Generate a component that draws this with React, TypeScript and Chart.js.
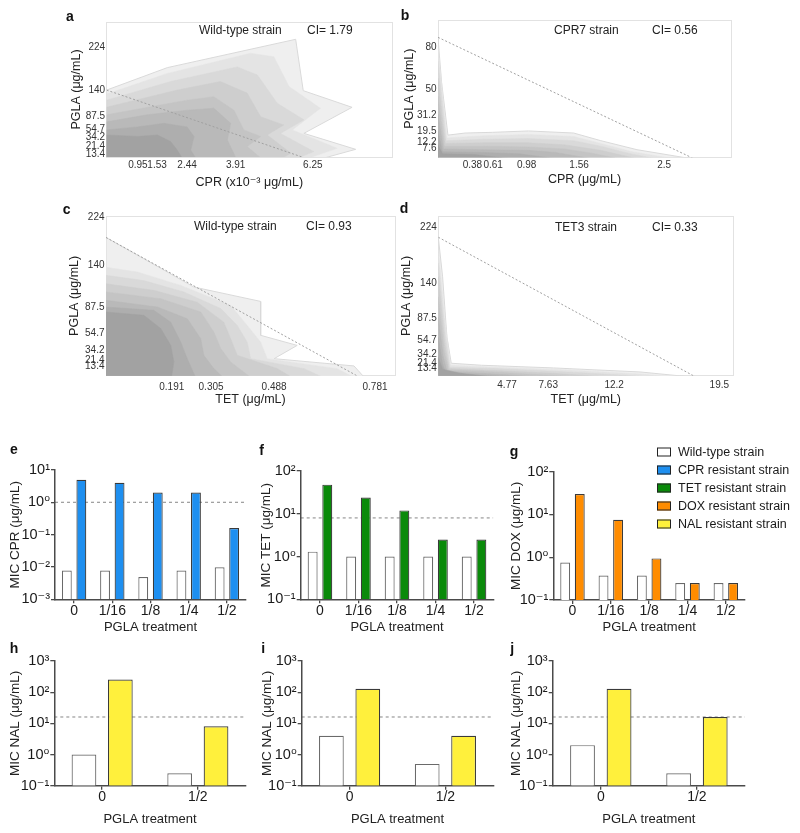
import React, { useEffect, useRef } from 'react';
import { Chart, registerables } from 'chart.js';

Chart.register(...registerables);

const FONT = '"Liberation Sans", Arial, Helvetica, "DejaVu Sans", sans-serif';
Chart.defaults.font.family = FONT;
if (typeof document !== 'undefined' && document.body) document.body.style.margin = '0';

// ---------------- Contour panels (a–d) ----------------
const aXTicks = [0.95, 1.53, 2.44, 3.91, 6.25];
const aXLabels = ['0.95', '1.53', '2.44', '3.91', '6.25'];
const aYTickPos = [224, 140, 88.5, 63, 45.5, 28, 13.4];
const aYLabels = ['224', '140', '87.5', '54.7', '34.2', '21.4', '13.4'];
const aIsobole = [[0, 140], [6.25, 0]];
const aL1 = [[0, 140], [1.84, 184.5], [5.73, 240.7], [5.96, 138.9], [7.44, 105.8], [5.98, 54.2], [7.55, 22.5], [6.3, 0]];
const aL2 = [[0, 132], [1.84, 173], [4.36, 213], [5.07, 206], [5.53, 147], [6.48, 104], [5.63, 61], [6.99, 24.5], [5.9, 0]];
const aL3 = [[0, 120], [1.94, 157], [3.96, 186], [4.57, 170], [5.17, 114], [5.98, 81], [5.27, 54], [6.28, 18], [5.6, 0]];
const aL4 = [[0, 106], [2.14, 140], [3.45, 157], [4.26, 134], [4.67, 87], [5.37, 71], [4.87, 51], [5.58, 15], [5.2, 0]];
const aL5 = [[0, 91], [2.44, 120], [3.25, 127], [3.86, 100], [4.16, 61], [4.67, 48], [4.26, 28], [4.77, 0]];
const aL6 = [[0, 77], [1.23, 91], [2.44, 100], [3.25, 104], [3.76, 74], [3.66, 41], [3.96, 0]];
const aL7 = [[0, 61], [0.93, 67], [1.74, 74], [2.44, 67], [2.65, 48], [2.55, 21], [2.75, 0]];
const aL8 = [[0, 51], [0.93, 48], [1.54, 51], [1.94, 38], [2.14, 21], [2.34, 0]];

const bXTicks = [0.38, 0.61, 0.98, 1.56, 2.5];
const bXLabels = ['0.38', '0.61', '0.98', '1.56', '2.5'];
const bYTicks = [80, 50, 31.2, 19.5, 12.2, 7.6];
const bYLabels = ['80', '50', '31.2', '19.5', '12.2', '7.6'];
const bIsobole = [[0, 87.5], [2.83, 0]];
const bL1 = [[0, 87], [0.04, 55], [0.11, 17], [0.3, 18.5], [0.6, 19], [1.0, 20], [1.5, 18.5], [1.8, 13], [2.2, 6.5], [2.8, 0]];
const bL2 = [[0, 80], [0.1, 15], [0.5, 16.5], [1.0, 17.5], [1.5, 16], [1.8, 11], [2.15, 5], [2.6, 0]];
const bL3 = [[0, 70], [0.09, 13], [0.5, 14], [1.0, 14.5], [1.5, 13], [1.8, 9], [2.1, 4], [2.4, 0]];
const bL4 = [[0, 58], [0.08, 11], [0.5, 11.5], [1.0, 11.5], [1.4, 10], [1.8, 6], [2.2, 0]];
const bL5 = [[0, 45], [0.07, 9], [0.5, 9], [1.0, 8.5], [1.4, 7], [1.7, 4], [2.0, 0]];
const bL6 = [[0, 32], [0.06, 7], [0.5, 6.5], [1.0, 6], [1.3, 4.5], [1.7, 0]];
const bL7 = [[0, 20], [0.05, 5], [0.5, 4.5], [0.9, 3.5], [1.3, 0]];
const bL8 = [[0, 10], [0.05, 3.5], [0.4, 3], [0.8, 0]];

const cXTicks = [0.191, 0.305, 0.488, 0.781];
const cXLabels = ['0.191', '0.305', '0.488', '0.781'];
const cYTickPos = [200, 140, 87.5, 54.7, 34.2, 21.4, 13.4];
const cYLabels = ['224', '140', '87.5', '54.7', '34.2', '21.4', '13.4'];
const cIsobole = [[0, 175], [0.737, 0]];
const cL1 = [[0, 175], [0.255, 113], [0.449, 95], [0.449, 52.6], [0.555, 40], [0.488, 23.4], [0.72, 14.3], [0.75, 0]];
const cL2 = [[0, 137.6], [0.091, 131.8], [0.217, 115], [0.362, 90], [0.41, 65], [0.449, 44], [0.468, 23.4], [0.671, 10.9], [0.72, 0]];
const cL3 = [[0, 127.6], [0.11, 121], [0.226, 106.8], [0.333, 86], [0.381, 65], [0.41, 44], [0.42, 23.4], [0.575, 10.9], [0.63, 0]];
const cL4 = [[0, 117], [0.139, 108.8], [0.265, 94], [0.342, 69], [0.362, 48.4], [0.381, 27.6], [0.497, 11], [0.54, 0]];
const cL5 = [[0, 106.8], [0.159, 98.4], [0.275, 81.8], [0.313, 56.8], [0.333, 36], [0.362, 19.3], [0.42, 0]];
const cL6 = [[0, 96.3], [0.149, 88], [0.236, 73.4], [0.275, 48.4], [0.284, 27.6], [0.313, 11], [0.34, 0]];
const cL7 = [[0, 88], [0.139, 83.8], [0.188, 69], [0.217, 44.3], [0.236, 23.4], [0.26, 0]];
const cL8 = [[0, 81.8], [0.11, 77.6], [0.159, 61], [0.188, 40], [0.197, 19.3], [0.19, 0]];

const dXTicks = [4.77, 7.63, 12.2, 19.5];
const dXLabels = ['4.77', '7.63', '12.2', '19.5'];
const dYTicks = [224, 140, 87.5, 54.7, 34.2, 21.4, 13.4];
const dYLabels = ['224', '140', '87.5', '54.7', '34.2', '21.4', '13.4'];
const dIsobole = [[0, 209], [17.9, 0]];
const dL1 = [[0, 209], [0.3, 150], [0.6, 60], [0.9, 21], [3, 18], [8, 14], [14, 8], [17.8, 0]];
const dL2 = [[0, 190], [0.5, 80], [0.85, 18], [4, 15], [9, 11], [14, 5], [16.5, 0]];
const dL3 = [[0, 170], [0.5, 60], [0.8, 15], [4, 13], [9, 8], [13, 3], [15, 0]];
const dL4 = [[0, 150], [0.45, 50], [0.75, 13], [4, 10], [8, 6], [12, 0]];
const dL5 = [[0, 120], [0.4, 40], [0.7, 11], [3, 9], [7, 4], [10, 0]];
const dL6 = [[0, 90], [0.35, 30], [0.6, 9], [3, 6], [6, 2], [8, 0]];
const dL7 = [[0, 60], [0.3, 20], [0.5, 8], [2.5, 4], [6, 0]];
const dL8 = [[0, 30], [0.3, 12], [1.5, 6], [4, 0]];

const GRAYS = ['#efefef', '#e4e4e4', '#d9d9d9', '#cecece', '#c4c4c4', '#b9b9b9', '#aeaeae', '#a2a2a2'];
const FRAME = '#e2e2e2';

// ---------------- Bar panels (e–j) ----------------
const cats5 = ['0', '1/16', '1/8', '1/4', '1/2'];
const cats2 = ['0', '1/2'];

const eWild = [0.0078, 0.0078, 0.0049, 0.0078, 0.0098];
const eCPR = [5, 4, 2, 2, 0.16];
const eCut = 1;
const eYTicks = [0.001, 0.01, 0.1, 1, 10];
const eYLabels = ['10⁻³', '10⁻²', '10⁻¹', '10⁰', '10¹'];

const fWild = [1.3, 1, 1, 1, 1];
const fTET = [48, 24, 12, 2.5, 2.5];
const fCut = 8;
const fgYTicks = [0.1, 1, 10, 100];
const fgYLabels = ['10⁻¹', '10⁰', '10¹', '10²'];

const gWild = [0.75, 0.375, 0.375, 0.25, 0.25];
const gDOX = [30, 7.5, 0.94, 0.25, 0.25];

const hWild = [1, 0.25];
const hNAL = [256, 8];
const iWild = [4, 0.5];
const iNAL = [128, 4];
const jWild = [2, 0.25];
const jNAL = [128, 16];
const nalCut = 16;
const hijYTicks = [0.1, 1, 10, 100, 1000];
const hijYLabels = ['10⁻¹', '10⁰', '10¹', '10²', '10³'];

const BLUE = '#1E8FF0';
const GREEN = '#0A8A0A';
const ORANGE = '#FF8C00';
const YELLOW = '#FFF03C';
const AXIS = '#4a4a4a';

const legendLabels = ['Wild-type strain', 'CPR resistant strain', 'TET resistant strain', 'DOX resistant strain', 'NAL resistant strain'];
const legendColors = ['#ffffff', BLUE, GREEN, ORANGE, YELLOW];

type Rect = { x: number; y: number; w: number; h: number };

const baseOptions = (rect: any, area: any) => ({
  responsive: false,
  animation: false,
  devicePixelRatio: 1,
  events: [],
  layout: { padding: { left: 0, bottom: 0, top: area.t - rect.y, right: rect.x + rect.w - area.r } },
  plugins: { legend: { display: false }, tooltip: { enabled: false } },
});

function contourConfig(s: any) {
  const { rect, area } = s;
  const titleSize = 12.5;
  const lh = titleSize * 1.2;
  const tickSize = 10;
  const datasets: any[] = [
    {
      data: s.isobole.map((p: number[]) => ({ x: p[0], y: p[1] })),
      borderColor: '#a0a0a0',
      borderWidth: 1,
      borderDash: [2, 2],
      pointRadius: 0,
      fill: false,
      order: 0,
    },
  ];
  s.levels.forEach((lv: number[][], i: number) => {
    datasets.push({
      data: [{ x: 0, y: 0 }, ...lv.map((p) => ({ x: p[0], y: p[1] }))],
      backgroundColor: GRAYS[i],
      borderColor: i === 0 ? '#dadada' : GRAYS[i],
      borderWidth: i === 0 ? 1 : 0.5,
      pointRadius: 0,
      fill: 'shape',
      order: 100 - i,
    });
  });
  return {
    type: 'line',
    data: { datasets },
    options: {
      ...baseOptions(rect, area),
      scales: {
        x: {
          type: 'linear',
          position: 'bottom',
          min: s.xMin,
          max: s.xMax,
          grid: { display: false, drawTicks: false },
          border: { display: true, color: FRAME, width: 1 },
          afterBuildTicks: (ax: any) => {
            ax.ticks = s.xTicks.map((v: number) => ({ value: v }));
          },
          afterFit: (ax: any) => {
            ax.height = rect.y + rect.h - area.b;
          },
          ticks: {
            autoSkip: false,
            maxRotation: 0,
            minRotation: 0,
            padding: s.xTickY - area.b - tickSize * 0.6,
            font: { size: tickSize },
            color: '#333',
            callback: (_v: any, i: number) => s.xLabels[i],
          },
          title: {
            display: true,
            text: s.xTitle,
            font: { size: titleSize },
            color: '#222',
            padding: { top: 0, bottom: rect.y + rect.h - s.xTitleY - lh / 2 },
          },
        },
        y: {
          type: 'linear',
          position: 'left',
          min: s.yMin,
          max: s.yMax,
          grid: { display: false, drawTicks: false },
          border: { display: true, color: FRAME, width: 1 },
          afterBuildTicks: (ax: any) => {
            ax.ticks = s.yTicks.map((v: number) => ({ value: v }));
          },
          afterFit: (ax: any) => {
            ax.width = area.l - rect.x;
          },
          ticks: {
            autoSkip: false,
            padding: 1.5,
            font: { size: tickSize },
            color: '#333',
            callback: (_v: any, i: number) => s.yLabels[i],
          },
          title: {
            display: true,
            text: 'PGLA (μg/mL)',
            font: { size: titleSize },
            color: '#222',
            padding: { top: s.yTitleX - rect.x - lh / 2, bottom: 0 },
          },
        },
        x2: {
          type: 'linear',
          position: 'top',
          min: 0,
          max: 1,
          grid: { display: false, drawTicks: false },
          ticks: { display: false },
          border: { display: true, color: FRAME, width: 1 },
          afterFit: (ax: any) => {
            ax.height = 0;
          },
        },
        y2: {
          type: 'linear',
          position: 'right',
          min: 0,
          max: 1,
          grid: { display: false, drawTicks: false },
          ticks: { display: false },
          border: { display: true, color: FRAME, width: 1 },
          afterFit: (ax: any) => {
            ax.width = 0;
          },
        },
      },
    },
  };
}

function barConfig(s: any) {
  const { rect, area } = s;
  const yTitleSize = 13.5;
  const xTitleSize = 13;
  const datasets: any[] = [
    {
      data: s.wild,
      backgroundColor: '#ffffff',
      borderColor: '#6a6a6a',
      borderWidth: 1.2,
      barPercentage: 0.68,
      categoryPercentage: 0.76,
    },
    {
      data: s.res,
      backgroundColor: s.color,
      borderColor: '#3a3a3a',
      borderWidth: 1.2,
      barPercentage: 0.68,
      categoryPercentage: 0.76,
    },
  ];
  return {
    type: 'bar',
    data: { labels: s.cats, datasets },
    options: {
      ...baseOptions(rect, area),
      scales: {
        x: {
          type: 'category',
          position: 'bottom',
          offset: true,
          grid: {
            display: true,
            drawOnChartArea: false,
            drawTicks: true,
            tickLength: 4,
            offset: false,
            color: AXIS,
            lineWidth: 1.3,
          },
          border: { display: true, color: AXIS, width: 1.5 },
          ticks: {
            autoSkip: false,
            maxRotation: 0,
            minRotation: 0,
            padding: 0.5,
            font: { size: 14, lineHeight: 1 },
            color: '#1a1a1a',
          },
          afterFit: (ax: any) => {
            ax.height = rect.y + rect.h - area.b;
          },
          title: {
            display: true,
            text: 'PGLA treatment',
            font: { size: xTitleSize },
            color: '#222',
            padding: { top: 0, bottom: rect.y + rect.h - s.xTitleY - (xTitleSize * 1.2) / 2 },
          },
        },
        y: {
          type: 'logarithmic',
          position: 'left',
          min: s.yTicks[0],
          max: s.yTicks[s.yTicks.length - 1],
          grid: {
            display: true,
            drawOnChartArea: false,
            drawTicks: true,
            tickLength: 4,
            color: AXIS,
            lineWidth: 1.3,
          },
          border: { display: true, color: AXIS, width: 1.5 },
          afterBuildTicks: (ax: any) => {
            ax.ticks = s.yTicks.map((v: number) => ({ value: v, major: true }));
          },
          afterFit: (ax: any) => {
            ax.width = area.l - rect.x;
          },
          ticks: {
            autoSkip: false,
            padding: 1,
            font: { size: 14.5 },
            color: '#1a1a1a',
            callback: (_v: any, i: number) => s.yLabels[i],
          },
          title: {
            display: true,
            text: s.yTitle,
            font: { size: yTitleSize },
            color: '#222',
            padding: { top: s.yTitleX - rect.x - (yTitleSize * 1.2) / 2, bottom: 0 },
          },
        },
      },
    },
  };
}

// Threshold (dashed) line, drawn by its own chart with the same geometry and log scale,
// placed underneath the bar chart.
function cutConfig(s: any) {
  const { rect, area } = s;
  return {
    type: 'line',
    data: {
      datasets: [
        {
          data: [
            { x: 0, y: s.cut },
            { x: 1, y: s.cut },
          ],
          borderColor: '#9a9a9a',
          borderWidth: 1.2,
          borderDash: [3, 3],
          pointRadius: 0,
          fill: false,
        },
      ],
    },
    options: {
      ...baseOptions(rect, area),
      scales: {
        x: {
          type: 'linear',
          min: 0,
          max: 1,
          offset: false,
          grid: { display: false, drawTicks: false },
          border: { display: false },
          ticks: { display: false },
          afterFit: (ax: any) => {
            ax.height = rect.y + rect.h - area.b;
          },
        },
        y: {
          type: 'logarithmic',
          min: s.yTicks[0],
          max: s.yTicks[s.yTicks.length - 1],
          grid: { display: false, drawTicks: false },
          border: { display: false },
          ticks: { display: false },
          afterFit: (ax: any) => {
            ax.width = area.l - rect.x;
          },
        },
      },
    },
  };
}

function CanvasChart({ rect, build }: { rect: Rect; build: () => any }) {
  const ref = useRef<HTMLCanvasElement | null>(null);
  useEffect(() => {
    if (!ref.current) return;
    const chart = new Chart(ref.current, build());
    return () => chart.destroy();
  }, []);
  return (
    <canvas
      ref={ref}
      width={rect.w}
      height={rect.h}
      style={{ position: 'absolute', left: rect.x, top: rect.y, width: rect.w, height: rect.h }}
    />
  );
}

const contourSpecs = [
  {
    key: 'a',
    rect: { x: 50, y: 10, w: 360, h: 186 },
    area: { l: 106.6, t: 22, r: 392, b: 157 },
    xMin: 0, xMax: 8.65, yMin: 7.3, yMax: 275,
    xTicks: aXTicks, xLabels: aXLabels, yTicks: aYTickPos, yLabels: aYLabels,
    isobole: aIsobole, levels: [aL1, aL2, aL3, aL4, aL5, aL6, aL7, aL8],
    xTitle: 'CPR (x10⁻³ μg/mL)', yTitleX: 76.7, xTitleY: 182.7, xTickY: 165.7,
  },
  {
    key: 'b',
    rect: { x: 395, y: 10, w: 350, h: 186 },
    area: { l: 438, t: 20, r: 731, b: 157.3 },
    xMin: 0, xMax: 3.24, yMin: 1, yMax: 100,
    xTicks: bXTicks, xLabels: bXLabels, yTicks: bYTicks, yLabels: bYLabels,
    isobole: bIsobole, levels: [bL1, bL2, bL3, bL4, bL5, bL6, bL7, bL8],
    xTitle: 'CPR (μg/mL)', yTitleX: 410, xTitleY: 180, xTickY: 165.7,
  },
  {
    key: 'c',
    rect: { x: 50, y: 205, w: 360, h: 210 },
    area: { l: 106, t: 216, r: 395, b: 375.7 },
    xMin: 0, xMax: 0.839, yMin: 2.1, yMax: 201.8,
    xTicks: cXTicks, xLabels: cXLabels, yTicks: cYTickPos, yLabels: cYLabels,
    isobole: cIsobole, levels: [cL1, cL2, cL3, cL4, cL5, cL6, cL7, cL8],
    xTitle: 'TET (μg/mL)', yTitleX: 75, xTitleY: 400, xTickY: 387.7,
  },
  {
    key: 'd',
    rect: { x: 395, y: 205, w: 350, h: 210 },
    area: { l: 438.3, t: 216, r: 733.3, b: 375.7 },
    xMin: 0, xMax: 20.47, yMin: 2.4, yMax: 240.7,
    xTicks: dXTicks, xLabels: dXLabels, yTicks: dYTicks, yLabels: dYLabels,
    isobole: dIsobole, levels: [dL1, dL2, dL3, dL4, dL5, dL6, dL7, dL8],
    xTitle: 'TET (μg/mL)', yTitleX: 406.7, xTitleY: 400, xTickY: 385.7,
  },
];

const barSpecs = [
  {
    key: 'e', rect: { x: 0, y: 440, w: 258, h: 200 }, area: { l: 55, t: 470, r: 246, b: 599.3 },
    cats: cats5, wild: eWild, res: eCPR, color: BLUE, cut: eCut,
    yTicks: eYTicks, yLabels: eYLabels, yTitle: 'MIC CPR (μg/mL)', yTitleX: 15, xTitleY: 627,
  },
  {
    key: 'f', rect: { x: 252, y: 440, w: 252, h: 200 }, area: { l: 300.7, t: 471, r: 493.3, b: 599.3 },
    cats: cats5, wild: fWild, res: fTET, color: GREEN, cut: fCut,
    yTicks: fgYTicks, yLabels: fgYLabels, yTitle: 'MIC TET (μg/mL)', yTitleX: 266, xTitleY: 627,
  },
  {
    key: 'g', rect: { x: 505, y: 440, w: 250, h: 200 }, area: { l: 553.3, t: 471.7, r: 745, b: 600 },
    cats: cats5, wild: gWild, res: gDOX, color: ORANGE, cut: null,
    yTicks: fgYTicks, yLabels: fgYLabels, yTitle: 'MIC DOX (μg/mL)', yTitleX: 516.5, xTitleY: 627,
  },
  {
    key: 'h', rect: { x: 0, y: 640, w: 258, h: 193 }, area: { l: 54.3, t: 661, r: 245.7, b: 785.7 },
    cats: cats2, wild: hWild, res: hNAL, color: YELLOW, cut: nalCut,
    yTicks: hijYTicks, yLabels: hijYLabels, yTitle: 'MIC NAL (μg/mL)', yTitleX: 15, xTitleY: 819.3,
  },
  {
    key: 'i', rect: { x: 252, y: 640, w: 252, h: 193 }, area: { l: 301.7, t: 661, r: 493.3, b: 785.7 },
    cats: cats2, wild: iWild, res: iNAL, color: YELLOW, cut: nalCut,
    yTicks: hijYTicks, yLabels: hijYLabels, yTitle: 'MIC NAL (μg/mL)', yTitleX: 267, xTitleY: 819.3,
  },
  {
    key: 'j', rect: { x: 505, y: 640, w: 250, h: 193 }, area: { l: 552.7, t: 661, r: 745, b: 785.7 },
    cats: cats2, wild: jWild, res: jNAL, color: YELLOW, cut: nalCut,
    yTicks: hijYTicks, yLabels: hijYLabels, yTitle: 'MIC NAL (μg/mL)', yTitleX: 516.5, xTitleY: 819.3,
  },
];

const panelLetters = [
  { t: 'a', x: 70, y: 16 },
  { t: 'b', x: 405, y: 15 },
  { t: 'c', x: 66.7, y: 209.3 },
  { t: 'd', x: 404, y: 208.3 },
  { t: 'e', x: 14, y: 449 },
  { t: 'f', x: 261.7, y: 450 },
  { t: 'g', x: 514, y: 450.7 },
  { t: 'h', x: 14, y: 648.3 },
  { t: 'i', x: 263.3, y: 648 },
  { t: 'j', x: 512.3, y: 648 },
];

const annotations = [
  { t: 'Wild-type strain', x: 199, y: 30 },
  { t: 'CI= 1.79', x: 307, y: 30 },
  { t: 'CPR7 strain', x: 554, y: 30 },
  { t: 'CI= 0.56', x: 652, y: 30 },
  { t: 'Wild-type strain', x: 194, y: 226 },
  { t: 'CI= 0.93', x: 306, y: 226 },
  { t: 'TET3 strain', x: 555, y: 226.7 },
  { t: 'CI= 0.33', x: 652, y: 226.7 },
];

export default function App() {
  useEffect(() => {
    document.body.style.margin = '0';
  }, []);
  return (
    <div style={{ position: 'relative', width: 800, height: 833, background: '#fff', fontFamily: FONT, overflow: 'hidden' }}>
      {contourSpecs.map((s) => (
        <CanvasChart key={s.key} rect={s.rect} build={() => contourConfig(s)} />
      ))}
      {barSpecs
        .filter((s) => s.cut != null)
        .map((s) => (
          <CanvasChart key={s.key + '-cut'} rect={s.rect} build={() => cutConfig(s)} />
        ))}
      {barSpecs.map((s) => (
        <CanvasChart key={s.key} rect={s.rect} build={() => barConfig(s)} />
      ))}
      {panelLetters.map((p) => (
        <div
          key={p.t}
          style={{
            position: 'absolute', left: p.x, top: p.y, transform: 'translate(-50%, -50%)',
            fontWeight: 'bold', fontSize: 14, lineHeight: '16px', color: '#111',
          }}
        >
          {p.t}
        </div>
      ))}
      {annotations.map((a, i) => (
        <div
          key={i}
          style={{
            position: 'absolute', left: a.x, top: a.y, transform: 'translateY(-50%)',
            fontSize: 12, lineHeight: '14px', color: '#222', whiteSpace: 'nowrap',
          }}
        >
          {a.t}
        </div>
      ))}
      {legendLabels.map((l, i) => (
        <div key={l} style={{ position: 'absolute', left: 657, top: 451.7 + i * 18.15, transform: 'translateY(-50%)', display: 'flex', alignItems: 'center', whiteSpace: 'nowrap' }}>
          <div style={{ width: 12, height: 7, border: '1.5px solid #222', background: legendColors[i], marginRight: 7 }} />
          <span style={{ fontSize: 12.5, lineHeight: '15px', color: '#1a1a1a' }}>{l}</span>
        </div>
      ))}
    </div>
  );
}
